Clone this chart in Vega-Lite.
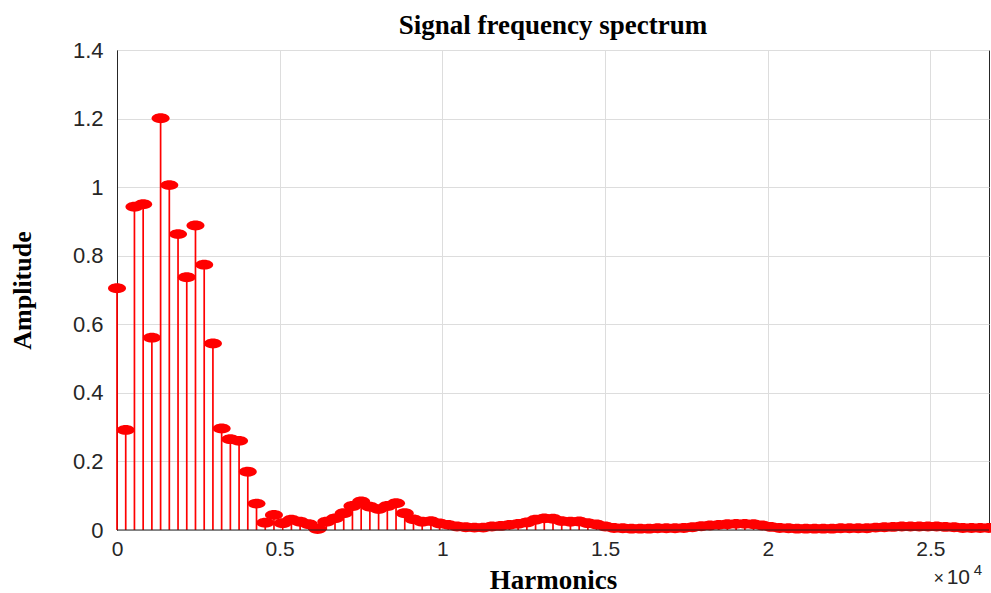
{
  "$schema": "https://vega.github.io/schema/vega-lite/v6.json",
  "width": 872,
  "height": 480,
  "autosize": {"type": "none"},
  "padding": {"left": 117, "top": 50, "right": 2, "bottom": 63},
  "background": "white",
  "title": {"text": "Signal frequency spectrum", "font": "Liberation Serif", "fontSize": 27, "fontWeight": "bold", "color": "black", "offset": -1},
  "config": {
    "view": {"stroke": "#262626", "strokeWidth": 1},
    "axis": {
      "labelFont": "Liberation Sans", "labelFontSize": 21, "labelColor": "#262626",
      "titleFont": "Liberation Serif", "titleFontSize": 27, "titleFontWeight": "bold", "titleColor": "black",
      "gridColor": "#dddddd", "gridWidth": 1, "gridOpacity": 1,
      "domainColor": "#262626", "ticks": false, "labelFlush": false
    }
  },
  "data": {"values": [
    {"harmonic": 0, "amplitude": 0.705},
    {"harmonic": 268, "amplitude": 0.292},
    {"harmonic": 536, "amplitude": 0.943},
    {"harmonic": 804, "amplitude": 0.950},
    {"harmonic": 1072, "amplitude": 0.561},
    {"harmonic": 1340, "amplitude": 1.201},
    {"harmonic": 1608, "amplitude": 1.006},
    {"harmonic": 1876, "amplitude": 0.863},
    {"harmonic": 2144, "amplitude": 0.737},
    {"harmonic": 2412, "amplitude": 0.888},
    {"harmonic": 2680, "amplitude": 0.774},
    {"harmonic": 2948, "amplitude": 0.544},
    {"harmonic": 3216, "amplitude": 0.296},
    {"harmonic": 3484, "amplitude": 0.265},
    {"harmonic": 3752, "amplitude": 0.260},
    {"harmonic": 4020, "amplitude": 0.170},
    {"harmonic": 4288, "amplitude": 0.077},
    {"harmonic": 4556, "amplitude": 0.021},
    {"harmonic": 4824, "amplitude": 0.044},
    {"harmonic": 5092, "amplitude": 0.020},
    {"harmonic": 5360, "amplitude": 0.030},
    {"harmonic": 5628, "amplitude": 0.024},
    {"harmonic": 5896, "amplitude": 0.017},
    {"harmonic": 6164, "amplitude": 0.003},
    {"harmonic": 6432, "amplitude": 0.024},
    {"harmonic": 6700, "amplitude": 0.034},
    {"harmonic": 6968, "amplitude": 0.049},
    {"harmonic": 7236, "amplitude": 0.070},
    {"harmonic": 7504, "amplitude": 0.083},
    {"harmonic": 7772, "amplitude": 0.068},
    {"harmonic": 8040, "amplitude": 0.061},
    {"harmonic": 8308, "amplitude": 0.070},
    {"harmonic": 8576, "amplitude": 0.078},
    {"harmonic": 8844, "amplitude": 0.049},
    {"harmonic": 9112, "amplitude": 0.031},
    {"harmonic": 9380, "amplitude": 0.024},
    {"harmonic": 9648, "amplitude": 0.026},
    {"harmonic": 9916, "amplitude": 0.019},
    {"harmonic": 10184, "amplitude": 0.015},
    {"harmonic": 10452, "amplitude": 0.010},
    {"harmonic": 10720, "amplitude": 0.008},
    {"harmonic": 10988, "amplitude": 0.007},
    {"harmonic": 11256, "amplitude": 0.007},
    {"harmonic": 11524, "amplitude": 0.010},
    {"harmonic": 11792, "amplitude": 0.012},
    {"harmonic": 12060, "amplitude": 0.015},
    {"harmonic": 12328, "amplitude": 0.018},
    {"harmonic": 12596, "amplitude": 0.022},
    {"harmonic": 12864, "amplitude": 0.030},
    {"harmonic": 13132, "amplitude": 0.034},
    {"harmonic": 13400, "amplitude": 0.033},
    {"harmonic": 13668, "amplitude": 0.026},
    {"harmonic": 13936, "amplitude": 0.024},
    {"harmonic": 14204, "amplitude": 0.025},
    {"harmonic": 14472, "amplitude": 0.020},
    {"harmonic": 14740, "amplitude": 0.016},
    {"harmonic": 15008, "amplitude": 0.010},
    {"harmonic": 15276, "amplitude": 0.006},
    {"harmonic": 15544, "amplitude": 0.005},
    {"harmonic": 15812, "amplitude": 0.004},
    {"harmonic": 16080, "amplitude": 0.004},
    {"harmonic": 16348, "amplitude": 0.004},
    {"harmonic": 16616, "amplitude": 0.005},
    {"harmonic": 16884, "amplitude": 0.005},
    {"harmonic": 17152, "amplitude": 0.005},
    {"harmonic": 17420, "amplitude": 0.006},
    {"harmonic": 17688, "amplitude": 0.008},
    {"harmonic": 17956, "amplitude": 0.011},
    {"harmonic": 18224, "amplitude": 0.013},
    {"harmonic": 18492, "amplitude": 0.015},
    {"harmonic": 18760, "amplitude": 0.017},
    {"harmonic": 19028, "amplitude": 0.018},
    {"harmonic": 19296, "amplitude": 0.018},
    {"harmonic": 19564, "amplitude": 0.017},
    {"harmonic": 19832, "amplitude": 0.013},
    {"harmonic": 20100, "amplitude": 0.009},
    {"harmonic": 20368, "amplitude": 0.006},
    {"harmonic": 20636, "amplitude": 0.005},
    {"harmonic": 20904, "amplitude": 0.004},
    {"harmonic": 21172, "amplitude": 0.004},
    {"harmonic": 21440, "amplitude": 0.004},
    {"harmonic": 21708, "amplitude": 0.004},
    {"harmonic": 21976, "amplitude": 0.004},
    {"harmonic": 22244, "amplitude": 0.005},
    {"harmonic": 22512, "amplitude": 0.005},
    {"harmonic": 22780, "amplitude": 0.005},
    {"harmonic": 23048, "amplitude": 0.005},
    {"harmonic": 23316, "amplitude": 0.007},
    {"harmonic": 23584, "amplitude": 0.008},
    {"harmonic": 23852, "amplitude": 0.009},
    {"harmonic": 24120, "amplitude": 0.010},
    {"harmonic": 24388, "amplitude": 0.010},
    {"harmonic": 24656, "amplitude": 0.010},
    {"harmonic": 24924, "amplitude": 0.010},
    {"harmonic": 25192, "amplitude": 0.010},
    {"harmonic": 25460, "amplitude": 0.009},
    {"harmonic": 25728, "amplitude": 0.008},
    {"harmonic": 25996, "amplitude": 0.006},
    {"harmonic": 26264, "amplitude": 0.006},
    {"harmonic": 26532, "amplitude": 0.006},
    {"harmonic": 26800, "amplitude": 0.006}
  ]},
  "encoding": {
    "x": {"field": "harmonic", "type": "quantitative",
      "scale": {"domain": [0, 26800], "nice": false, "zero": false},
      "axis": {"title": "Harmonics", "values": [0, 5000, 10000, 15000, 20000, 25000],
        "labelExpr": "format(datum.value / 10000, '~g')", "labelPadding": 8, "titlePadding": 8, "domain": false}},
    "y": {"field": "amplitude", "type": "quantitative",
      "scale": {"domain": [0, 1.4], "nice": false},
      "axis": {"title": "Amplitude", "values": [0, 0.2, 0.4, 0.6, 0.8, 1, 1.2, 1.4],
        "labelExpr": "format(datum.value, '~g')", "labelPadding": 14, "labelFontSize": 22, "titlePadding": 37, "titleFontSize": 26}}
  },
  "layer": [
    {"mark": {"type": "rule", "color": "#ff0000", "strokeWidth": 1.7},
     "encoding": {"y2": {"datum": 0}}},
    {"mark": {"type": "point", "shape": "M-1,0A1,0.55,0,1,1,1,0A1,0.55,0,1,1,-1,0Z", "filled": true, "color": "#ff0000", "size": 324, "opacity": 1}},
    {"transform": [{"filter": "datum.harmonic == 26800"}],
     "mark": {"type": "rule", "color": "#262626", "strokeWidth": 1.2},
     "encoding": {"x": null, "y": {"datum": 0}}},
    {"transform": [{"filter": "datum.harmonic == 26800"}],
     "mark": {"type": "text", "align": "right", "baseline": "middle", "dx": -19, "dy": 48, "font": "Liberation Sans", "fontSize": 21, "color": "#262626"},
     "encoding": {"x": {"datum": 26800}, "y": {"datum": 0}, "text": {"value": "10"}}},
    {"transform": [{"filter": "datum.harmonic == 26800"}],
     "mark": {"type": "text", "align": "right", "baseline": "middle", "dx": -45, "dy": 49, "font": "Liberation Sans", "fontSize": 18, "color": "#262626"},
     "encoding": {"x": {"datum": 26800}, "y": {"datum": 0}, "text": {"value": "×"}}},
    {"transform": [{"filter": "datum.harmonic == 26800"}],
     "mark": {"type": "text", "align": "right", "baseline": "middle", "dx": -7, "dy": 40, "font": "Liberation Sans", "fontSize": 15, "color": "#262626"},
     "encoding": {"x": {"datum": 26800}, "y": {"datum": 0}, "text": {"value": "4"}}}
  ]
}
